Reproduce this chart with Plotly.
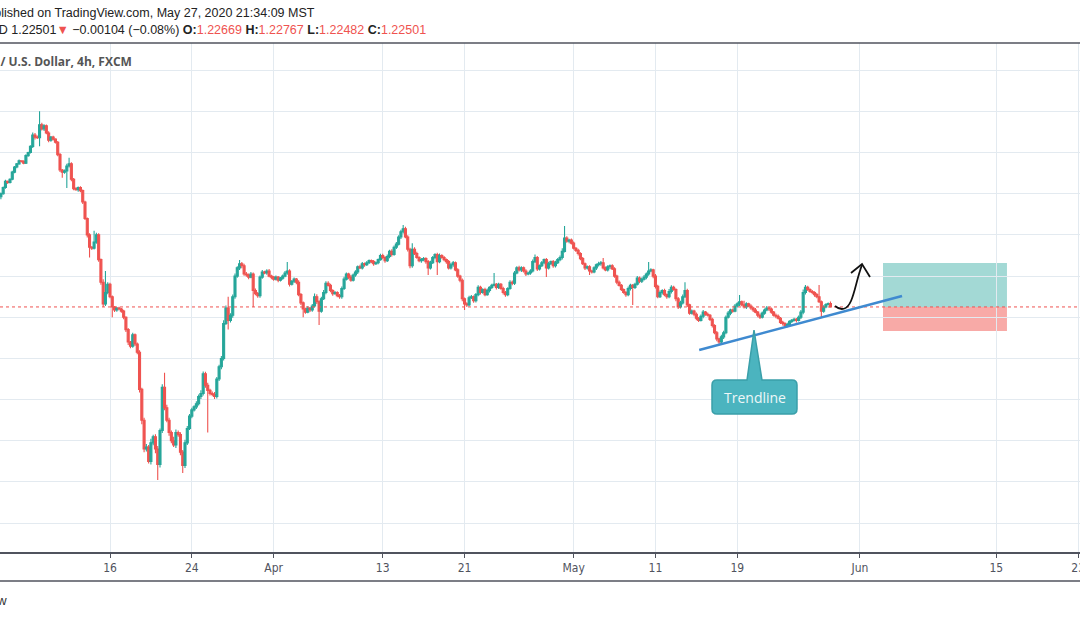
import pandas as pd
import plotly.graph_objects as go

# GBPUSD 4h (FXCM), 6 velas por dia util, de 04/03 a 27/05/2020
dias = pd.bdate_range('2020-03-04', '2020-05-27')

# fechamento de cada vela de 4h (uma linha por dia)
fechamento_dia = [
    [1.2800, 1.2830, 1.2860, 1.2855, 1.2870, 1.2905],  # 04/03
    [1.2930, 1.2945, 1.2960, 1.2958, 1.2948, 1.2985],
    [1.3000, 1.3030, 1.3085, 1.3075, 1.3072, 1.3135],
    [1.3115, 1.3130, 1.3095, 1.3060, 1.3075, 1.3065],  # 09/03
    [1.3050, 1.2990, 1.2915, 1.2905, 1.2910, 1.2935],
    [1.2945, 1.2870, 1.2825, 1.2820, 1.2830, 1.2815],
    [1.2760, 1.2680, 1.2600, 1.2540, 1.2535, 1.2565],
    [1.2600, 1.2480, 1.2370, 1.2265, 1.2320, 1.2360],
    [1.2300, 1.2250, 1.2235, 1.2245, 1.2240, 1.2230],  # 16/03
    [1.2200, 1.2140, 1.2080, 1.2060, 1.2115, 1.2070],
    [1.2030, 1.1850, 1.1700, 1.1560, 1.1570, 1.1500],
    [1.1590, 1.1620, 1.1560, 1.1485, 1.1650, 1.1860],
    [1.1760, 1.1700, 1.1640, 1.1600, 1.1580, 1.1640],
    [1.1630, 1.1545, 1.1480, 1.1590, 1.1660, 1.1720],  # 23/03
    [1.1750, 1.1765, 1.1780, 1.1815, 1.1830, 1.1925],
    [1.1870, 1.1845, 1.1830, 1.1825, 1.1815, 1.1900],
    [1.1960, 1.2000, 1.2170, 1.2245, 1.2185, 1.2210],
    [1.2300, 1.2400, 1.2440, 1.2460, 1.2450, 1.2410],
    [1.2405, 1.2395, 1.2410, 1.2330, 1.2315, 1.2305],  # 30/03
    [1.2395, 1.2420, 1.2415, 1.2425, 1.2400, 1.2395],
    [1.2385, 1.2395, 1.2380, 1.2390, 1.2400, 1.2415],
    [1.2425, 1.2360, 1.2375, 1.2385, 1.2370, 1.2310],
    [1.2270, 1.2240, 1.2225, 1.2245, 1.2235, 1.2255],
    [1.2300, 1.2275, 1.2230, 1.2290, 1.2320, 1.2365],  # 06/04
    [1.2355, 1.2330, 1.2315, 1.2320, 1.2305, 1.2300],
    [1.2340, 1.2385, 1.2410, 1.2395, 1.2380, 1.2405],
    [1.2420, 1.2445, 1.2440, 1.2460, 1.2455, 1.2465],
    [1.2475, 1.2470, 1.2460, 1.2465, 1.2480, 1.2500],
    [1.2490, 1.2475, 1.2495, 1.2520, 1.2505, 1.2540],  # 13/04
    [1.2555, 1.2590, 1.2615, 1.2630, 1.2590, 1.2530],
    [1.2450, 1.2530, 1.2510, 1.2490, 1.2475, 1.2480],
    [1.2485, 1.2470, 1.2440, 1.2465, 1.2490, 1.2505],
    [1.2470, 1.2500, 1.2490, 1.2480, 1.2470, 1.2440],
    [1.2455, 1.2465, 1.2430, 1.2400, 1.2380, 1.2290],  # 20/04
    [1.2265, 1.2260, 1.2295, 1.2300, 1.2280, 1.2310],
    [1.2345, 1.2320, 1.2335, 1.2310, 1.2330, 1.2345],
    [1.2355, 1.2360, 1.2345, 1.2360, 1.2340, 1.2320],
    [1.2310, 1.2340, 1.2370, 1.2365, 1.2415, 1.2440],
    [1.2430, 1.2440, 1.2425, 1.2410, 1.2415, 1.2425],  # 27/04
    [1.2470, 1.2490, 1.2435, 1.2450, 1.2465, 1.2480],
    [1.2440, 1.2460, 1.2470, 1.2450, 1.2465, 1.2480],
    [1.2490, 1.2520, 1.2585, 1.2570, 1.2575, 1.2560],
    [1.2535, 1.2525, 1.2510, 1.2485, 1.2460, 1.2440],
    [1.2445, 1.2425, 1.2420, 1.2440, 1.2455, 1.2460],  # 04/05
    [1.2465, 1.2440, 1.2430, 1.2445, 1.2450, 1.2435],
    [1.2400, 1.2370, 1.2355, 1.2335, 1.2320, 1.2310],
    [1.2340, 1.2355, 1.2345, 1.2360, 1.2390, 1.2375],
    [1.2385, 1.2395, 1.2410, 1.2425, 1.2430, 1.2400],
    [1.2350, 1.2300, 1.2320, 1.2330, 1.2310, 1.2300],  # 11/05
    [1.2325, 1.2345, 1.2335, 1.2290, 1.2250, 1.2270],
    [1.2300, 1.2330, 1.2260, 1.2220, 1.2230, 1.2215],
    [1.2195, 1.2185, 1.2205, 1.2225, 1.2215, 1.2210],
    [1.2190, 1.2160, 1.2125, 1.2095, 1.2080, 1.2105],
    [1.2125, 1.2200, 1.2220, 1.2235, 1.2230, 1.2255],  # 18/05
    [1.2265, 1.2275, 1.2260, 1.2250, 1.2265, 1.2255],
    [1.2245, 1.2235, 1.2225, 1.2210, 1.2200, 1.2220],
    [1.2235, 1.2245, 1.2240, 1.2225, 1.2210, 1.2205],
    [1.2195, 1.2175, 1.2170, 1.2160, 1.2165, 1.2180],
    [1.2185, 1.2190, 1.2185, 1.2200, 1.2225, 1.2320],  # 25/05
    [1.2345, 1.2335, 1.2325, 1.2320, 1.2310, 1.2300],
    [1.2275, 1.2230, 1.2250, 1.2262, 1.22669, 1.22501],
]

# pavio superior e inferior de cada vela, em pips
pavio_sup_dia = [
    [6, 5, 8, 4, 5, 6], [5, 4, 6, 3, 5, 7], [4, 6, 12, 10, 8, 65],
    [10, 8, 6, 9, 5, 7], [5, 6, 8, 5, 8, 10], [30, 8, 6, 7, 5, 6],
    [5, 6, 5, 8, 6, 55], [10, 8, 6, 15, 105, 10],
    [8, 6, 5, 5, 6, 5], [6, 5, 8, 5, 10, 6], [8, 10, 8, 12, 15, 10],
    [20, 10, 12, 15, 10, 15], [70, 15, 12, 10, 20, 15],
    [10, 12, 10, 15, 12, 10], [10, 8, 12, 10, 15, 12], [10, 12, 8, 10, 12, 10],
    [10, 12, 15, 12, 55, 10], [10, 12, 8, 18, 8, 10],
    [10, 8, 10, 8, 10, 8], [8, 10, 6, 8, 10, 6], [6, 8, 5, 6, 8, 10],
    [43, 8, 6, 8, 6, 10], [8, 6, 6, 8, 5, 10],
    [15, 12, 8, 10, 12, 10], [10, 8, 6, 8, 6, 8], [10, 12, 8, 6, 10, 8],
    [8, 6, 10, 8, 6, 8], [6, 5, 8, 6, 5, 8],
    [8, 6, 10, 8, 10, 8], [10, 8, 10, 18, 10, 8], [8, 30, 10, 8, 6, 8],
    [8, 6, 8, 10, 8, 6], [8, 10, 6, 8, 6, 8],
    [10, 8, 6, 8, 6, 8], [6, 8, 10, 8, 6, 8], [10, 8, 6, 8, 10, 6],
    [8, 55, 6, 8, 6, 8], [8, 6, 10, 8, 10, 8],
    [10, 8, 6, 8, 6, 8], [10, 15, 8, 6, 8, 6], [8, 10, 6, 8, 10, 8],
    [10, 15, 58, 8, 6, 8], [8, 6, 8, 6, 8, 6],
    [6, 8, 6, 8, 6, 10], [8, 23, 6, 8, 6, 8], [8, 6, 8, 6, 5, 8],
    [10, 8, 6, 8, 10, 8], [8, 10, 8, 43, 8, 6],
    [10, 8, 10, 6, 8, 6], [12, 10, 8, 6, 8, 10], [10, 40, 8, 6, 8, 6],
    [8, 6, 8, 10, 6, 8], [6, 8, 6, 8, 6, 10],
    [10, 8, 10, 6, 8, 10], [8, 33, 6, 20, 8, 6], [8, 6, 10, 6, 8, 8],
    [8, 10, 6, 8, 6, 8], [8, 6, 8, 6, 8, 6],
    [6, 8, 6, 8, 10, 15], [12, 8, 6, 8, 6, 8], [57, 6, 8, 6, 5, 9.8],
]

pavio_inf_dia = [
    [12, 5, 6, 8, 5, 4], [5, 6, 4, 6, 5, 4], [6, 5, 8, 12, 6, 42],
    [8, 10, 6, 10, 8, 6], [6, 8, 10, 28, 8, 82], [8, 10, 8, 6, 10, 8],
    [10, 8, 12, 50, 8, 6], [8, 10, 12, 15, 10, 8],
    [8, 50, 10, 8, 6, 8], [10, 12, 15, 10, 8, 10], [10, 15, 20, 15, 12, 10],
    [15, 12, 20, 75, 15, 12], [12, 10, 15, 12, 10, 15],
    [10, 15, 36, 12, 10, 8], [10, 8, 10, 8, 12, 10], [12, 205, 10, 8, 12, 10],
    [10, 12, 10, 8, 45, 10], [12, 10, 8, 10, 12, 8],
    [8, 10, 6, 80, 8, 10], [10, 8, 6, 8, 6, 10], [8, 6, 10, 6, 8, 6],
    [8, 10, 6, 8, 10, 8], [10, 40, 8, 6, 10, 8],
    [8, 10, 68, 8, 6, 8], [6, 8, 10, 6, 8, 10], [10, 8, 6, 10, 8, 6],
    [8, 10, 6, 8, 10, 6], [6, 8, 10, 6, 8, 6],
    [8, 10, 6, 8, 10, 6], [8, 6, 10, 8, 6, 10], [12, 10, 8, 6, 8, 10],
    [8, 10, 35, 8, 6, 8], [65, 8, 6, 8, 10, 8],
    [8, 10, 6, 8, 10, 12], [30, 10, 8, 6, 10, 8], [8, 10, 6, 8, 6, 10],
    [8, 6, 10, 8, 6, 10], [10, 8, 6, 10, 8, 6],
    [8, 10, 8, 10, 6, 8], [8, 6, 10, 8, 6, 8], [45, 8, 6, 10, 8, 6],
    [8, 10, 6, 8, 10, 6], [6, 8, 10, 8, 6, 10],
    [8, 20, 8, 6, 10, 8], [10, 8, 6, 8, 10, 6], [8, 10, 6, 8, 6, 10],
    [8, 10, 85, 8, 6, 10], [8, 6, 10, 8, 6, 10],
    [10, 8, 6, 10, 8, 10], [8, 10, 6, 12, 10, 8], [8, 6, 10, 8, 6, 10],
    [10, 8, 6, 10, 8, 6], [8, 10, 8, 12, 10, 8],
    [10, 8, 6, 10, 8, 6], [8, 10, 6, 8, 10, 6], [8, 10, 6, 10, 8, 6],
    [8, 6, 10, 8, 6, 10], [6, 8, 10, 6, 8, 6],
    [8, 6, 10, 6, 8, 10], [10, 8, 6, 8, 10, 8], [6, 30, 8, 6, 5, 1.9],
]

abertura_inicial = 1.2785
preco_atual = 1.22501

datas_ticks = ['2020-03-16', '2020-03-24', '2020-04-01', '2020-04-13', '2020-04-21',
               '2020-05-01', '2020-05-11', '2020-05-19', '2020-06-01', '2020-06-15',
               '2020-06-23']
rotulos_ticks = ['16', '24', 'Apr', '13', '21', 'May', '11', '19', 'Jun', '15', '23']

# montando o dataframe de velas
df = pd.DataFrame({
    'data': [d + pd.Timedelta(hours=4 * k) for d in dias for k in range(6)],
    'fechamento': [v for linha in fechamento_dia for v in linha],
    'pavio_sup': [v for linha in pavio_sup_dia for v in linha],
    'pavio_inf': [v for linha in pavio_inf_dia for v in linha],
})
# no forex a abertura de cada vela e o fechamento da anterior
df['abertura'] = df['fechamento'].shift(1).fillna(abertura_inicial)
corpo_max = df[['abertura', 'fechamento']].max(axis=1)
corpo_min = df[['abertura', 'fechamento']].min(axis=1)
df['maximo'] = corpo_max + df['pavio_sup'] / 10000
df['minimo'] = corpo_min - df['pavio_inf'] / 10000

verde = '#26a69a'
vermelho = '#ef5350'
grade = '#e3eaf0'
cinza = '#50535e'

fig = go.Figure()
fig.add_trace(go.Candlestick(
    x=df['data'], open=df['abertura'], high=df['maximo'],
    low=df['minimo'], close=df['fechamento'],
    increasing=dict(line=dict(color=verde, width=1.1), fillcolor=verde),
    decreasing=dict(line=dict(color=vermelho, width=1.1), fillcolor=vermelho),
    whiskerwidth=0, hoverinfo='skip', name='GBPUSD'))

# pixel -> coordenadas do papel (area do grafico: 0..1080 x 43..552)
def px(x, y):
    return f'{x / 1080:.5f},{(552 - y) / 509:.5f}'

shapes = []
# linha do preco atual
shapes.append(dict(type='line', xref='paper', yref='y', x0=0, x1=1,
                   y0=preco_atual, y1=preco_atual,
                   line=dict(color=vermelho, width=1, dash='dot')))
# caixa de posicao (alvo e stop)
shapes.append(dict(type='rect', xref='x', yref='y', x0='2020-06-02 16:30', x1='2020-06-15 18:40',
                   y0=preco_atual, y1=1.2464, fillcolor='#a3d9d5', line=dict(width=0), layer='below'))
shapes.append(dict(type='rect', xref='x', yref='y', x0='2020-06-02 16:30', x1='2020-06-15 18:40',
                   y0=1.2133, y1=preco_atual, fillcolor='#f8aaa7', line=dict(width=0), layer='below'))
# linha de tendencia
shapes.append(dict(type='line', xref='x', yref='y', x0='2020-05-14 05:00', y0=1.2041,
                   x1='2020-06-04 02:00', y1=1.2303, line=dict(color='#3f8ad0', width=2.5)))
# balao "Trendline"
balao = ('M' + px(717, 380) + ' L' + px(747, 380) + ' L' + px(754, 330) + ' L' + px(762, 380) +
         ' L' + px(792, 380) + ' Q' + px(797, 380) + ' ' + px(797, 385) + ' L' + px(797, 409) +
         ' Q' + px(797, 414) + ' ' + px(792, 414) + ' L' + px(717, 414) + ' Q' + px(712, 414) +
         ' ' + px(712, 409) + ' L' + px(712, 385) + ' Q' + px(712, 380) + ' ' + px(717, 380) + ' Z')
shapes.append(dict(type='path', xref='paper', yref='paper', path=balao,
                   fillcolor='#4bb4bf', line=dict(color='#3a9fa9', width=1.5)))
# seta desenhada a mao
seta = ('M' + px(835, 306) + ' C' + px(841, 311) + ' ' + px(847, 310) + ' ' + px(851, 301) +
        ' C' + px(855, 292) + ' ' + px(857, 278) + ' ' + px(862, 265))
shapes.append(dict(type='path', xref='paper', yref='paper', path=seta,
                   line=dict(color='#111111', width=1.8)))
ponta = 'M' + px(851, 273) + ' L' + px(862, 264) + ' L' + px(870, 277)
shapes.append(dict(type='path', xref='paper', yref='paper', path=ponta,
                   line=dict(color='#111111', width=1.8)))
# linhas do cabecalho e do rodape
shapes.append(dict(type='line', xref='paper', yref='paper', x0=0, x1=1, y0=1, y1=1,
                   line=dict(color=cinza, width=1.5)))
shapes.append(dict(type='line', xref='paper', yref='paper', x0=0, x1=1, y0=-0.057, y1=-0.057,
                   line=dict(color=cinza, width=1.5)))

fonte_tv = 'Liberation Sans, Arial, sans-serif'
ver = "<span style='color:#ef5350'>"
cabecalho = ("GBPUSD 1.22501" + ver + "▼</span> −0.00104 (−0.08%) <b>O:</b>" + ver + "1.22669</span> "
             "<b>H:</b>" + ver + "1.22767</span> <b>L:</b>" + ver + "1.22482</span> "
             "<b>C:</b>" + ver + "1.22501</span>")

anotacoes = [
    dict(text='Published on TradingView.com, May 27, 2020 21:34:09 MST', x=317 / 1080, y=(552 - 13) / 509,
         xanchor='right', yanchor='middle', font=dict(family=fonte_tv, size=12.5, color='#222222')),
    dict(text=cabecalho, x=428 / 1080, y=(552 - 30) / 509,
         xanchor='right', yanchor='middle', font=dict(family=fonte_tv, size=12.5, color='#222222')),
    dict(text='<b>British Pound / U.S. Dollar, 4h, FXCM</b>', x=134 / 1080, y=(552 - 61) / 509,
         xanchor='right', yanchor='middle', font=dict(family='Open Sans, sans-serif', size=12, color='#555555')),
    dict(text='TradingView', x=9 / 1080, y=(552 - 600) / 509,
         xanchor='right', yanchor='middle', font=dict(family=fonte_tv, size=13, color='#333333')),
    dict(text='Trendline', x=754.5 / 1080, y=(552 - 397) / 509,
         xanchor='center', yanchor='middle', font=dict(family='Open Sans, sans-serif', size=14, color='#eef7f8')),
]
for a in anotacoes:
    a.update(xref='paper', yref='paper', showarrow=False)

fig.update_layout(
    width=1080, height=618,
    margin=dict(l=0, r=0, t=43, b=66),
    paper_bgcolor='white', plot_bgcolor='white',
    showlegend=False, boxgap=0.12, boxgroupgap=0,
    shapes=shapes, annotations=anotacoes,
    xaxis=dict(type='date', range=['2020-03-03 22:24', '2020-06-23 03:13'],
               rangebreaks=[dict(bounds=['sat', 'mon'])],
               rangeslider=dict(visible=False),
               tickmode='array', tickvals=datas_ticks, ticktext=rotulos_ticks,
               ticklabeloverflow='allow', automargin=False,
               showgrid=True, gridcolor=grade, gridwidth=1,
               showline=True, linecolor=cinza, linewidth=1.5,
               ticks='outside', ticklen=4, tickcolor=cinza,
               tickfont=dict(family='Liberation Sans Narrow, DejaVu Sans Condensed, sans-serif',
                             size=12, color=cinza)),
    yaxis=dict(range=[1.1060, 1.3532], tick0=1.12, dtick=0.02, automargin=False,
               showticklabels=False, showgrid=True, gridcolor=grade, gridwidth=1,
               zeroline=False, showline=False),
)

# tira a margem padrao do body para o grafico ficar colado no canto
fig.write_html('out.html', config={'displayModeBar': False},
               post_script="document.body.style.margin='0px';")
